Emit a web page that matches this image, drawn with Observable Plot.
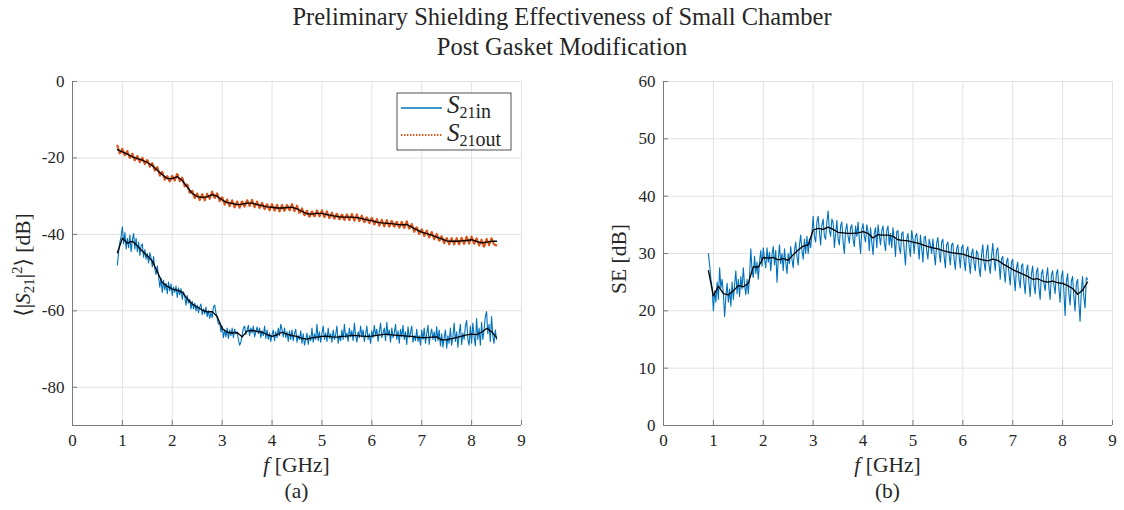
<!DOCTYPE html>
<html><head><meta charset="utf-8">
<script src="https://cdn.jsdelivr.net/npm/d3@7"></script>
<script src="https://cdn.jsdelivr.net/npm/@observablehq/plot@0.6"></script>
<style>
body{margin:0;background:#fff;font-family:"Liberation Serif","DejaVu Serif","Noto Serif","Times New Roman",serif;}
#wrap{position:relative;width:1124px;height:510px;overflow:hidden;}
#title{position:absolute;top:2px;left:0;width:1124px;text-align:center;font-size:24.5px;line-height:30px;color:#262626;}
#a{position:absolute;left:0;top:62px;}
#b{position:absolute;left:562px;top:62px;}
</style></head>
<body>
<div id="wrap">
  <div id="title">Preliminary Shielding Effectiveness of Small Chamber<br>Post Gasket Modification</div>
  <div id="a"></div>
  <div id="b"></div>
</div>
<script>
// ---- Data (frequency sweep 0.9 – 8.5 GHz) ----
const fStart = 0.9, fEnd = 8.5;
const xTicks = [0, 1, 2, 3, 4, 5, 6, 7, 8, 9];
const yTicksA = [-80, -60, -40, -20, 0];
const yTicksB = [0, 10, 20, 30, 40, 50, 60];

// raw S21 inside chamber [dB], 0.025 GHz steps
const s21in = [
-48.0,-44.5,-42.0,-40.5,-38.0,-42.5,-39.5,-43.8,-41.0,-43.5,-40.2,-44.5,-41.5,-39.8,-43.8,-41.0,-44.5,-42.0,-45.5,-43.0,
-42.5,-46.0,-44.0,-46.5,-45.0,-47.5,-44.8,-46.2,-48.5,-45.8,-49.0,-50.5,-48.2,-51.0,-53.8,-51.5,-55.2,-52.0,-54.5,-52.8,
-55.5,-52.5,-54.8,-53.0,-56.0,-53.8,-55.2,-53.5,-56.5,-54.0,-55.8,-54.2,-57.0,-55.0,-56.2,-58.5,-56.0,-58.0,-57.0,-59.5,
-57.5,-59.5,-58.0,-60.0,-58.5,-60.5,-59.0,-58.2,-61.0,-59.5,-60.8,-59.0,-61.5,-60.0,-62.0,-60.5,-61.8,-59.0,-58.5,-60.5,
-62.0,-63.5,-63.0,-65.5,-64.0,-67.0,-65.0,-66.8,-64.5,-67.2,-65.0,-66.5,-64.5,-67.0,-64.8,-66.0,-65.5,-67.5,-69.0,-68.2,
-66.5,-64.5,-64.0,-66.2,-65.0,-63.8,-66.5,-64.5,-65.8,-64.0,-66.8,-65.5,-64.2,-66.0,-64.5,-67.0,-65.2,-66.5,-64.0,-67.2,
-65.0,-67.5,-65.8,-68.0,-66.2,-65.0,-67.8,-65.5,-67.0,-64.5,-66.5,-63.5,-65.0,-66.8,-64.5,-67.0,-65.5,-68.0,-65.2,-67.5,
-65.0,-67.8,-66.0,-64.8,-68.2,-66.5,-67.5,-65.2,-68.5,-66.0,-69.0,-67.5,-65.8,-68.8,-66.5,-67.8,-64.5,-68.2,-66.0,-67.5,
-63.5,-67.8,-65.5,-68.2,-66.0,-64.0,-67.5,-65.8,-68.0,-64.5,-67.2,-66.0,-68.2,-65.0,-67.5,-66.2,-64.0,-68.5,-66.5,-67.8,
-65.0,-67.5,-63.5,-67.0,-65.8,-68.0,-64.5,-66.8,-65.2,-67.8,-63.2,-66.5,-68.2,-65.5,-67.0,-64.0,-66.8,-65.0,-68.0,-66.2,
-64.0,-67.5,-66.0,-68.5,-65.2,-67.0,-63.8,-66.5,-64.8,-68.0,-65.5,-63.2,-67.0,-65.8,-64.5,-67.8,-63.0,-66.5,-65.0,-68.2,
-64.5,-67.0,-65.8,-63.5,-67.5,-65.2,-68.5,-64.8,-66.8,-63.8,-67.5,-65.5,-68.8,-64.2,-67.0,-65.8,-64.0,-68.2,-66.5,-67.8,
-64.8,-68.0,-66.5,-69.0,-65.0,-67.5,-64.5,-68.5,-66.0,-63.8,-68.8,-66.2,-64.8,-67.5,-65.5,-68.0,-64.2,-67.8,-65.0,-69.2,
-66.0,-69.5,-67.0,-65.0,-69.8,-66.5,-68.5,-64.5,-69.0,-66.8,-63.2,-68.0,-65.5,-69.5,-66.0,-63.5,-68.8,-65.8,-67.5,-64.0,
-62.5,-67.5,-69.0,-64.0,-68.5,-63.2,-66.8,-69.2,-62.0,-67.5,-64.5,-69.0,-63.0,-67.5,-65.0,-61.5,-60.2,-66.0,-63.5,-68.0,
-61.5,-66.5,-68.5,-65.0,-67.5
];
// raw S21 outside chamber [dB], 0.05 GHz steps
const s21out = [
-16.8,-18.9,-17.6,-19.4,-18.2,-20.1,-18.9,-20.7,-19.5,-21.1,
-19.9,-21.6,-20.4,-22.3,-21.3,-23.3,-22.4,-24.6,-23.6,-25.7,
-24.7,-26.2,-24.6,-25.9,-24.1,-26.1,-25.1,-27.5,-26.8,-29.2,
-28.5,-30.5,-29.3,-31.0,-29.5,-31.1,-29.4,-30.7,-28.8,-30.6,
-29.2,-31.3,-30.2,-32.2,-30.9,-32.6,-31.1,-32.9,-31.4,-33.0,
-31.3,-32.8,-31.0,-32.6,-31.0,-32.9,-31.4,-33.2,-31.7,-33.5,
-32.0,-33.7,-32.1,-33.8,-32.3,-34.0,-32.3,-33.9,-32.2,-33.8,
-32.1,-33.9,-32.5,-34.5,-33.2,-35.1,-33.8,-35.5,-33.9,-35.4,
-33.7,-35.3,-33.7,-35.5,-34.0,-35.8,-34.3,-36.0,-34.5,-36.2,
-34.7,-36.3,-34.7,-36.3,-34.7,-36.4,-34.8,-36.6,-35.1,-36.9,
-35.4,-37.1,-35.6,-37.4,-36.0,-37.7,-36.2,-37.9,-36.3,-38.0,
-36.4,-38.1,-36.6,-38.3,-36.7,-38.3,-36.6,-38.6,-37.3,-39.3,
-38.0,-39.9,-38.6,-40.4,-39.0,-40.8,-39.4,-41.3,-39.9,-41.8,
-40.4,-42.3,-40.9,-42.6,-41.0,-42.6,-41.0,-42.6,-40.9,-42.5,
-40.6,-42.4,-40.6,-42.5,-41.0,-42.9,-41.4,-43.3,-41.2,-42.8,
-41.0,-42.7,-42.9
];
// raw shielding effectiveness [dB], 0.025 GHz steps
const seRaw = [
30.0,28.0,25.5,24.0,20.0,23.5,21.5,25.0,22.0,27.5,24.0,25.5,23.0,19.0,22.5,24.8,21.5,23.8,20.8,25.0,
22.0,24.5,27.0,23.0,25.5,22.5,26.0,23.8,27.5,24.5,22.8,25.5,23.0,26.0,30.8,27.0,25.8,29.5,26.5,28.5,
25.5,28.5,30.5,27.8,31.0,29.0,27.5,31.0,28.5,30.2,27.0,29.8,31.2,28.0,30.5,25.0,29.0,31.5,28.2,30.0,
27.0,30.8,28.5,26.5,30.0,28.2,31.2,29.0,27.5,30.5,32.0,29.5,28.0,31.5,33.2,30.5,29.0,32.5,30.0,33.0,
30.0,32.5,31.0,33.5,36.5,33.0,32.0,35.5,36.5,33.8,31.5,35.0,36.0,33.0,32.5,35.5,37.4,34.0,33.0,36.0,
35.5,31.0,33.5,35.8,32.5,31.5,34.8,35.5,32.0,30.0,34.0,35.2,33.0,31.8,34.5,35.0,32.5,31.2,34.8,33.0,
35.5,32.5,30.0,34.2,35.2,33.0,32.0,35.0,33.8,30.5,34.5,32.0,29.8,33.5,34.5,31.0,35.0,33.2,31.5,34.0,
34.8,32.0,30.5,34.0,34.8,31.5,33.5,31.0,34.5,32.5,29.5,33.8,34.0,31.0,30.0,33.5,33.8,30.5,28.0,32.5,
33.5,31.0,29.5,34.0,32.5,30.0,33.0,33.5,31.5,29.0,33.2,31.0,28.5,32.8,33.0,30.5,29.0,32.5,31.5,30.0,
32.5,30.0,28.0,31.8,32.8,30.2,28.5,32.0,32.5,29.5,27.5,31.5,32.0,29.8,28.0,31.5,31.8,29.0,27.2,30.8,
31.5,29.5,27.5,31.0,31.5,28.8,27.0,30.5,31.2,28.5,26.5,30.0,30.8,28.2,27.0,30.5,30.0,27.5,26.0,29.8,
31.5,28.5,27.0,30.2,31.5,28.0,26.5,29.5,31.8,29.0,27.0,30.5,31.0,28.2,25.5,29.0,29.5,27.0,25.0,28.5,
29.2,26.5,24.5,28.5,29.0,26.0,23.5,27.5,28.5,25.5,24.0,27.8,28.2,25.0,23.0,27.0,28.0,24.8,22.5,26.5,
27.8,24.5,23.0,26.8,27.5,24.0,22.0,26.5,27.2,24.8,23.5,26.0,27.5,24.0,22.0,26.2,27.0,24.5,23.0,26.5,
27.2,24.0,21.5,25.8,27.0,23.5,19.2,25.0,26.5,23.0,21.0,25.2,26.0,22.5,20.0,24.8,25.5,21.5,18.2,23.5,
26.0,22.5,20.5,25.8,25.5
];
// smoothed curves (black), 0.1 GHz steps
const s21inSmooth = [
-44.8,-41.0,-42.3,-41.8,-43.0,-44.4,-45.6,-47.0,-49.8,-52.6,
-53.6,-54.3,-54.6,-55.1,-56.9,-58.2,-59.0,-59.8,-60.3,-60.2,
-61.5,-64.6,-65.6,-65.8,-65.7,-66.8,-65.3,-65.1,-65.4,-65.6,
-66.2,-66.7,-66.3,-65.6,-66.1,-66.5,-66.7,-67.2,-67.4,-67.1,
-66.9,-66.7,-66.6,-66.8,-66.9,-66.7,-66.6,-66.4,-66.5,-66.6,
-66.7,-66.6,-66.4,-66.2,-66.1,-66.3,-66.4,-66.5,-66.6,-66.7,
-66.9,-67.0,-67.0,-66.9,-66.8,-67.6,-67.6,-67.3,-67.0,-66.6,
-66.3,-66.1,-66.2,-65.6,-64.6,-65.4,-67.0
];
const s21outSmooth = [
-17.8,-18.4,-19.0,-19.7,-20.2,-20.6,-21.2,-22.0,-23.2,-24.4,
-25.4,-25.4,-24.9,-25.9,-27.6,-29.3,-30.1,-30.3,-30.2,-29.6,
-30.0,-31.0,-31.7,-31.9,-32.2,-32.1,-31.8,-31.8,-32.2,-32.5,
-32.8,-32.9,-33.1,-33.1,-33.0,-32.9,-33.3,-34.0,-34.6,-34.7,
-34.5,-34.5,-34.8,-35.1,-35.3,-35.5,-35.5,-35.5,-35.6,-35.9,
-36.2,-36.4,-36.8,-37.0,-37.1,-37.2,-37.4,-37.5,-37.4,-38.1,
-38.8,-39.4,-39.8,-40.2,-40.7,-41.2,-41.7,-41.8,-41.8,-41.7,
-41.6,-41.4,-41.8,-42.2,-42.0,-41.8,-41.8
];
const seSmooth = [
27.0,22.6,24.3,23.0,22.8,23.5,24.4,24.2,24.8,27.7,
27.6,29.3,29.2,29.3,28.9,29.1,28.8,29.8,30.6,31.3,
31.5,34.1,34.4,34.2,34.6,34.2,33.7,33.6,33.5,33.5,
33.6,33.8,33.5,32.7,33.3,33.2,33.2,33.0,32.4,32.3,
32.2,32.0,31.8,31.5,31.2,31.0,30.8,30.5,30.3,30.1,
30.0,29.9,29.6,29.3,29.1,28.9,28.7,29.0,28.8,28.2,
27.7,27.2,26.8,26.4,26.0,25.5,25.6,25.2,25.0,25.2,
24.9,24.8,24.4,23.9,22.9,23.6,25.0
];

// attach the sweep frequency to each sample
const sweep = arr => arr.map((v, i) => ({f: fStart + i * (fEnd - fStart) / (arr.length - 1), v}));

const BLUE = "#0072BD", ORANGE = "#D95319";
const AX = "#7a7a7a", GRID = "#e2e2e2";
const FONT = '"Liberation Serif", "DejaVu Serif", "Noto Serif", "Times New Roman", serif', INK = "#262626";

function panel(yDomain, yTicks, margins, dataMarks) {
  return Plot.plot({
    width: 562, height: 448, ...margins,
    x: {domain: [0, 9], label: null},
    y: {domain: yDomain, label: null},
    style: {fontFamily: FONT, fontSize: "17px", color: INK, background: "white"},
    marks: [
      Plot.gridX(xTicks, {stroke: GRID, strokeOpacity: 1}),
      Plot.gridY(yTicks, {stroke: GRID, strokeOpacity: 1}),
      ...dataMarks,
      Plot.ruleX([0], {stroke: AX}),
      Plot.ruleY([yDomain[0]], {stroke: AX}),
      Plot.ruleX(xTicks, {y1: yDomain[0], y2: yDomain[0], insetTop: -5, stroke: AX}),
      Plot.ruleY(yTicks, {x1: 0, x2: 0, insetRight: -5, stroke: AX}),
      Plot.axisX(xTicks, {tickSize: 0, tickPadding: 8, tickFormat: d => String(d), label: null}),
      Plot.axisY(yTicks, {tickSize: 0, tickPadding: 8, tickFormat: d => String(d), label: null})
    ]
  });
}

const left = panel([-90, 0], yTicksA, {marginLeft: 72, marginRight: 41, marginTop: 19, marginBottom: 85}, [
  Plot.line(sweep(s21in), {x: "f", y: "v", stroke: BLUE, strokeWidth: 1.1}),
  Plot.line(sweep(s21out), {x: "f", y: "v", stroke: ORANGE, strokeWidth: 2.2, strokeDasharray: "1.6,1.6"}),
  Plot.line(sweep(s21inSmooth), {x: "f", y: "v", stroke: "black", strokeWidth: 1.3}),
  Plot.line(sweep(s21outSmooth), {x: "f", y: "v", stroke: "black", strokeWidth: 1.3})
]);
const right = panel([0, 60], yTicksB, {marginLeft: 101, marginRight: 12, marginTop: 19, marginBottom: 85}, [
  Plot.line(sweep(seRaw), {x: "f", y: "v", stroke: BLUE, strokeWidth: 1.1}),
  Plot.line(sweep(seSmooth), {x: "f", y: "v", stroke: "black", strokeWidth: 1.3})
]);
document.getElementById("a").appendChild(left);
document.getElementById("b").appendChild(right);

function xLabel(svg, cx, tag) {
  const s = d3.select(svg);
  const t = s.append("text").attr("x", cx).attr("y", 410).attr("text-anchor", "middle")
    .attr("font-family", FONT).attr("font-size", 21.5).attr("fill", INK);
  t.append("tspan").attr("font-style", "italic").text("f");
  t.append("tspan").text(" [GHz]");
  s.append("text").attr("x", cx).attr("y", 436).attr("text-anchor", "middle")
    .attr("font-family", FONT).attr("font-size", 21.5).attr("fill", INK).text(tag);
}
xLabel(left, 296.5, "(a)");
xLabel(right, 325.5, "(b)");

// y labels
{
  const t = d3.select(left).append("text").attr("transform", "translate(30,203) rotate(-90)")
    .attr("text-anchor", "middle").attr("font-family", FONT).attr("font-size", 21.5).attr("fill", INK);
  t.append("tspan").text("⟨|");
  t.append("tspan").attr("font-style", "italic").text("S");
  t.append("tspan").attr("font-size", 15).attr("dy", 4).text("21");
  t.append("tspan").attr("dy", -4).text("|");
  t.append("tspan").attr("font-size", 15).attr("dy", -8).text("2");
  t.append("tspan").attr("dy", 8).text("⟩ [dB]");
}
d3.select(right).append("text").attr("transform", "translate(64,197) rotate(-90)")
  .attr("text-anchor", "middle").attr("font-family", FONT).attr("font-size", 21.5).attr("fill", INK).text("SE [dB]");

// legend
{
  const g = d3.select(left).append("g");
  g.append("rect").attr("x", 397).attr("y", 31).attr("width", 114).attr("height", 57)
    .attr("fill", "white").attr("stroke", INK).attr("stroke-width", 0.8);
  g.append("line").attr("x1", 401).attr("x2", 442).attr("y1", 46).attr("y2", 46)
    .attr("stroke", BLUE).attr("stroke-width", 1.6);
  g.append("line").attr("x1", 401).attr("x2", 442).attr("y1", 73).attr("y2", 73)
    .attr("stroke", ORANGE).attr("stroke-width", 1.8).attr("stroke-dasharray", "1.4,1.6");
  [["in", 51], ["out", 79]].forEach(([sfx, y]) => {
    const t = g.append("text").attr("x", 447).attr("y", y).attr("text-anchor", "start")
      .attr("font-family", FONT).attr("font-size", 25).attr("fill", INK);
    t.append("tspan").attr("font-style", "italic").text("S");
    t.append("tspan").attr("font-size", 16).attr("dy", 5).text("21");
    t.append("tspan").attr("font-size", 20).text(sfx);
  });
}
</script>
</body></html>
